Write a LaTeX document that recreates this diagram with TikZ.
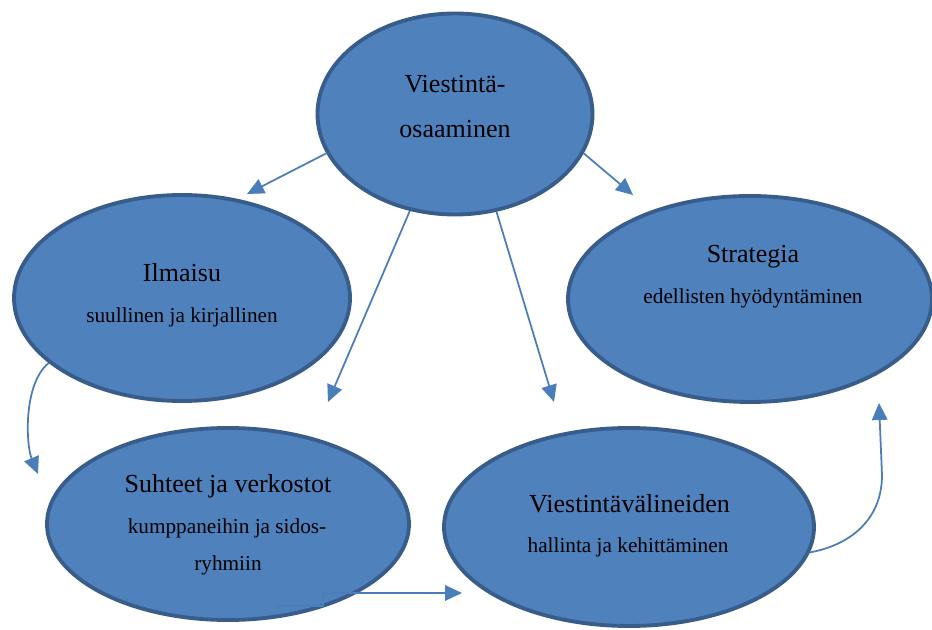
\documentclass[tikz,border=0pt]{standalone}
\usepackage{fontspec}
\setmainfont{Liberation Serif}
\usepackage{tikz}
\usetikzlibrary{arrows.meta,shapes.geometric}
\definecolor{bubblefill}{HTML}{4F81BD}
\definecolor{bubbleline}{HTML}{385D8A}
\definecolor{linkblue}{HTML}{4A7EBB}

\begin{document}
\begin{tikzpicture}[
  bubble/.style={ellipse, draw=bubbleline, line width=2.2pt, fill=bubblefill, inner sep=0pt},
  big/.style={anchor=base, font=\fontsize{14.8}{18}\selectfont},
  small/.style={anchor=base, font=\fontsize{12.1}{14}\selectfont},
  link/.style={draw=linkblue, line width=1pt, -{Triangle[length=0.34cm,width=0.31cm]}}
]
\useasboundingbox (0,0) rectangle (18.64,12.58);

% the five areas
\node[bubble, minimum width=5.50cm, minimum height=4.02cm] (viestinta) at (9.10,10.30) {};
\node[bubble, minimum width=6.72cm, minimum height=4.12cm] (ilmaisu) at (3.64,6.62) {};
\node[bubble, minimum width=7.28cm, minimum height=4.12cm] (strategia) at (15.00,6.60) {};
\node[bubble, minimum width=7.24cm, minimum height=3.84cm] (suhteet) at (4.56,2.10) {};
\node[bubble, minimum width=7.40cm, minimum height=3.96cm] (valineet) at (12.58,2.04) {};

% texts
\node[big] (viestintaA) at (9.10,10.72) {Viestintä-};
\node[big] (viestintaB) at (9.10,9.82) {osaaminen};
\node[big] (ilmaisuA) at (3.64,6.94) {Ilmaisu};
\node[small] (ilmaisuB) at (3.64,6.12) {suullinen ja kirjallinen};
\node[big] (strategiaA) at (15.06,7.32) {Strategia};
\node[small] (strategiaB) at (15.06,6.50) {edellisten hyödyntäminen};
\node[big] (suhteetA) at (4.56,2.72) {Suhteet ja verkostot};
\node[small] (suhteetB) at (4.54,1.90) {kumppaneihin ja sidos-};
\node[small] (suhteetC) at (4.56,1.18) {ryhmiin};
\node[big] (valineetA) at (12.59,2.34) {Viestintävälineiden};
\node[small] (valineetB) at (12.56,1.52) {hallinta ja kehittäminen};

% arrow tips
\coordinate (tipIlmaisu) at (4.94,8.70);
\coordinate (tipSuhteet) at (6.56,4.54);
\coordinate (tipValineet) at (11.08,4.54);
\coordinate (tipStrategia) at (12.66,8.68);
\coordinate (tipLeft) at (0.76,3.10);
\coordinate (tipRight) at (17.58,4.52);
\coordinate (elbowStart) at (5.54,0.46);
\coordinate (elbowTip) at (9.24,0.72);

\draw[link] (viestinta.-163) -- (tipIlmaisu);
\draw[link] (viestinta.-115) -- (tipSuhteet);
\draw[link] (viestinta.-67) -- (tipValineet);
\draw[link] (viestinta.-17) -- (tipStrategia);
\draw[link] (ilmaisu.-154) .. controls (0.46,4.90) and (0.52,3.68) .. (tipLeft);
\draw[link] (elbowStart) -| (6.46,0.72) -- (elbowTip);
\draw[link] (valineet.-8) .. controls (17.0,1.68) and (17.64,2.18) .. (17.64,3.08) -- (tipRight);
\end{tikzpicture}
\end{document}
